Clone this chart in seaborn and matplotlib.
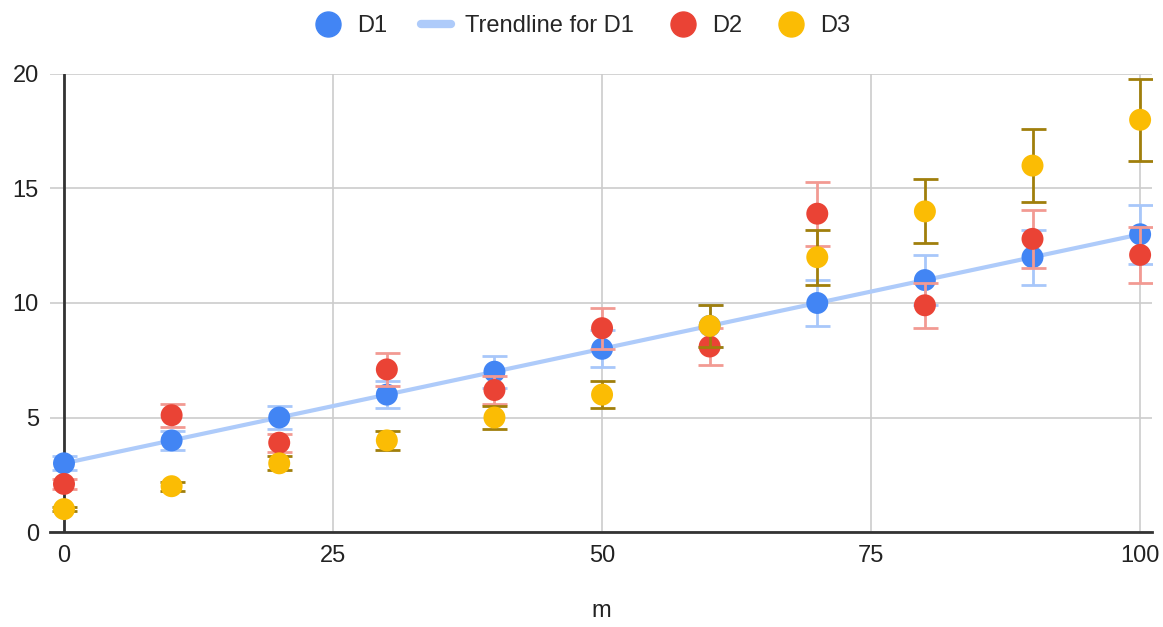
import numpy as np
import pandas as pd
import matplotlib
matplotlib.use("Agg")
import matplotlib.pyplot as plt
import seaborn as sns
from matplotlib.lines import Line2D

# data
m = [0, 10, 20, 30, 40, 50, 60, 70, 80, 90, 100]
d1 = [3, 4, 5, 6, 7, 8, 9, 10, 11, 12, 13]
d2 = [2.1, 5.1, 3.9, 7.1, 6.2, 8.9, 8.1, 13.9, 9.9, 12.8, 12.1]
d3 = [1, 2, 3, 4, 5, 6, 9, 12, 14, 16, 18]
d1_err = [0.3, 0.4, 0.5, 0.6, 0.7, 0.8, 0.9, 1.0, 1.1, 1.2, 1.3]
d2_err = [0.21, 0.51, 0.39, 0.71, 0.62, 0.89, 0.81, 1.39, 0.99, 1.28, 1.21]
d3_err = [0.1, 0.2, 0.3, 0.4, 0.5, 0.6, 0.9, 1.2, 1.4, 1.6, 1.8]

colors = {"D1": "#4285F4", "D2": "#EA4335", "D3": "#FBBC04"}
err_colors = {"D1": "#A8C7FA", "D2": "#F29A93", "D3": "#A07F0C"}
trend_color = "#AECBFA"

df = pd.DataFrame({
    "m": m * 3,
    "value": d1 + d2 + d3,
    "err": d1_err + d2_err + d3_err,
    "series": ["D1"] * len(m) + ["D2"] * len(m) + ["D3"] * len(m),
})

sns.set_theme(style="whitegrid")
plt.rcParams["font.family"] = ["Arial", "Liberation Sans", "DejaVu Sans"]

fig = plt.figure(figsize=(11.63, 6.27), dpi=100)
ax = fig.add_axes([0.043, 0.1515, 0.9475, 0.7305])

for i, s in enumerate(["D1", "D2", "D3"]):
    sub = df[df.series == s]
    ax.errorbar(sub.m, sub.value, yerr=sub.err, fmt="none", ecolor=err_colors[s],
                elinewidth=2, capsize=9, capthick=2, zorder=2 + i * 2)
    sns.scatterplot(data=sub, x="m", y="value", color=colors[s], s=250,
                    edgecolor="none", ax=ax, zorder=3 + i * 2, legend=False)
    if s == "D1":
        sns.regplot(data=sub, x="m", y="value", scatter=False, ci=None, ax=ax,
                    line_kws={"color": trend_color, "lw": 3, "zorder": 2.5})

ax.set_xlim(-1.3, 101.1)
ax.set_ylim(0, 20)
ax.set_xticks([0, 25, 50, 75, 100])
ax.set_yticks([0, 5, 10, 15, 20])
ax.grid(True, color="#cccccc", lw=1.2)
ax.axvline(0, color="#333333", lw=2, zorder=1.5)
for side in ["top", "right", "left"]:
    ax.spines[side].set_visible(False)
ax.spines["bottom"].set_color("#333333")
ax.spines["bottom"].set_linewidth(2)
ax.tick_params(axis="both", labelsize=17, colors="#222222", length=0)
ax.tick_params(axis="y", pad=8)
ax.tick_params(axis="x", pad=9)
ax.set_xlabel("m", fontsize=17, color="#222222", labelpad=24)
ax.set_ylabel("")

handles = [
    Line2D([], [], marker="o", ls="none", color=colors["D1"], markersize=18),
    Line2D([], [], color=trend_color, lw=6),
    Line2D([], [], marker="o", ls="none", color=colors["D2"], markersize=18),
    Line2D([], [], marker="o", ls="none", color=colors["D3"], markersize=18),
]
fig.legend(handles, ["D1", "Trendline for D1", "D2", "D3"], loc="upper center",
           bbox_to_anchor=(0.5, 1.01), ncol=4, frameon=False, fontsize=17,
           handlelength=1.3, columnspacing=1.4, handletextpad=0.6)

fig.savefig("out.png", dpi=100, facecolor="white")
